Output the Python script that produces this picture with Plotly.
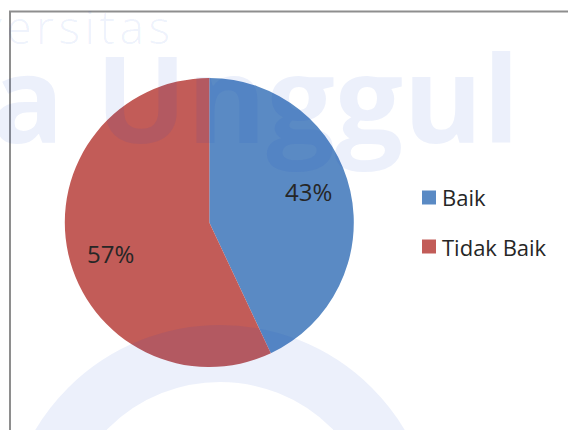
import math
import plotly.graph_objects as go

# ---- data ----
categories = ["Baik", "Tidak Baik"]
values = [43, 57]
colors = ["#5A8AC4", "#C25C58"]

W, H = 568, 430


def px(x):
    return x / W


def py(y):
    return 1 - y / H


fig = go.Figure()

cx, cy, r = 209.3, 222.5, 144.5
fig.add_trace(go.Pie(
    labels=categories,
    values=values,
    marker=dict(colors=colors, line=dict(width=0)),
    sort=False,
    direction="clockwise",
    rotation=0,
    textinfo="none",
    domain=dict(x=[px(cx - r), px(cx + r)], y=[py(cy + r), py(cy - r)]),
    showlegend=False,
    hoverinfo="label+percent",
))

wm = "rgba(10,70,210,0.08)"

shapes = [
    # chart border (extends off the page at right and bottom)
    dict(type="rect", xref="paper", yref="paper",
         x0=px(10), x1=px(620), y0=py(11.5), y1=py(480),
         line=dict(color="#8E8E8E", width=2), fillcolor="rgba(0,0,0,0)", layer="below"),
    # watermark ring
    dict(type="circle", xref="paper", yref="paper",
         x0=px(220 - 186.5), x1=px(220 + 186.5), y0=py(540 + 186.5), y1=py(540 - 186.5),
         line=dict(color=wm, width=57), fillcolor="rgba(0,0,0,0)", layer="above"),
]

annotations = [
    dict(text="U\u200an\u200ai\u200av\u200ae\u200ar\u200as\u200ai\u200at\u200aa\u200as", xref="paper", yref="paper",
         x=px(172), y=py(26), xanchor="right", yanchor="middle", showarrow=False,
         font=dict(family="Open Sans", size=46, color=wm, weight=300)),
    dict(text="Esa Unggul", xref="paper", yref="paper",
         x=px(522), y=py(96), xanchor="right", yanchor="middle", showarrow=False,
         font=dict(family="Open Sans", size=121, color=wm, weight="bold")),
]

# percentage labels placed along each slice's mid-angle
total = sum(values)
cum = 0.0
for v in values:
    mid = (cum + v / 2) / total * 360 - 5
    cum += v
    rad = math.radians(mid)
    lx = cx + 0.72 * r * math.sin(rad)
    ly = cy - 0.72 * r * math.cos(rad)
    annotations.append(dict(text=f"{round(v / total * 100)}%", xref="paper", yref="paper",
                            x=px(lx), y=py(ly), xanchor="center", yanchor="middle",
                            showarrow=False,
                            font=dict(family="Open Sans", size=24, color="#262626")))

# manual legend
leg_y = [197.5, 246.5]
for cat, col, yy in zip(categories, colors, leg_y):
    shapes.append(dict(type="rect", xref="paper", yref="paper",
                       x0=px(422), x1=px(436), y0=py(yy + 7), y1=py(yy - 7),
                       line=dict(width=0), fillcolor=col, layer="above"))
    annotations.append(dict(text=cat, xref="paper", yref="paper",
                            x=px(440), y=py(yy), xanchor="left", yanchor="middle",
                            showarrow=False,
                            font=dict(family="Open Sans", size=22, color="#262626")))

fig.update_layout(
    width=W, height=H,
    margin=dict(l=0, r=0, t=0, b=0),
    paper_bgcolor="white",
    plot_bgcolor="white",
    shapes=shapes,
    annotations=annotations,
    showlegend=False,
)

fig.write_html("out.html")
